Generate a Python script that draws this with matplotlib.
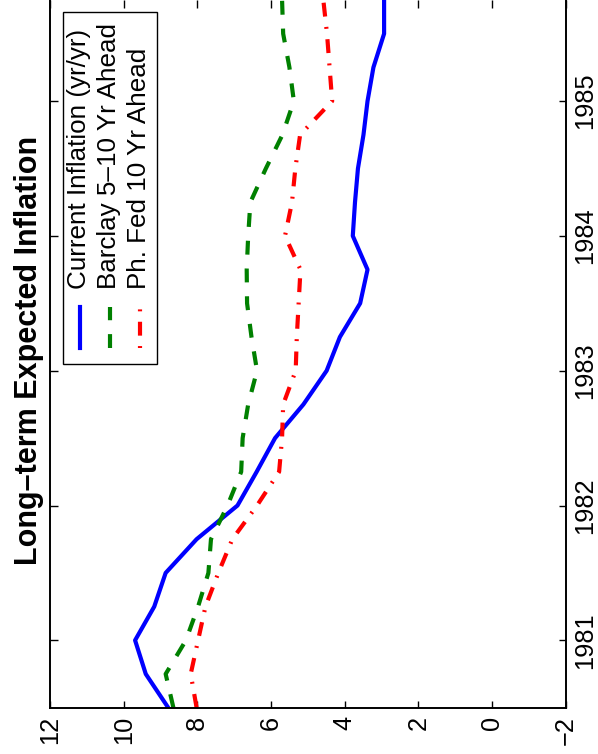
import matplotlib
matplotlib.use('Agg')
import matplotlib.pyplot as plt
from matplotlib.lines import Line2D
from matplotlib.patches import Rectangle

plt.rcParams['font.family'] = ['Liberation Sans', 'DejaVu Sans']
plt.rcParams['lines.scale_dashes'] = False

# quarterly dates, 1980Q3 .. 1985Q4
quarters = [1980.5, 1980.75, 1981.0, 1981.25, 1981.5, 1981.75, 1982.0, 1982.25,
            1982.5, 1982.75, 1983.0, 1983.25, 1983.5, 1983.75, 1984.0, 1984.25,
            1984.5, 1984.75, 1985.0, 1985.25, 1985.5, 1985.75]
current = [8.79, 9.40, 9.69, 9.17, 8.86, 8.02, 6.91, 6.39, 5.89, 5.12, 4.49,
           4.13, 3.58, 3.38, 3.78, 3.72, 3.64, 3.49, 3.38, 3.22, 2.93, 2.93]
barclay = [8.65, 8.86, 8.31, 7.98, 7.70, 7.63, 7.18, 6.81, 6.77, 6.62, 6.38,
           6.53, 6.65, 6.66, 6.62, 6.56, 6.14, 5.69, 5.38, 5.50, 5.67, 5.70]
phfed = [8.02, 8.18, 7.98, 7.78, 7.43, 7.05, 6.38, 5.78, 5.70, 5.67, 5.33,
         5.30, 5.25, 5.20, 5.62, 5.43, 5.34, 5.21, 4.34, 4.41, 4.48, 4.58]

names = ['Current Inflation (yr/yr)', 'Barclay 5\u201310 Yr Ahead', 'Ph. Fed 10 Yr Ahead']
colors = ['#0000ff', '#008000', '#ff0000']
styles = ['-', (0, (10, 10)), (0, (10, 7.5, 1.4, 7.5))]
year_ticks = [1981, 1982, 1983, 1984, 1985]
value_ticks = [12, 10, 8, 6, 4, 2, 0, -2]
title = 'Long\u2013term Expected Inflation'

W, H = 598, 754
fig = plt.figure(figsize=(W / 100, H / 100), dpi=100)


def fx(x):
    return x / W


def fy(y):
    return 1 - y / H


# the whole chart is turned 90 degrees: values run right-to-left, time bottom-to-top
ax = fig.add_axes([fx(50), fy(707.7), (565.7 - 50) / W, 707.7 / H])
for vals, c, ls in zip([current, barclay, phfed], colors, styles):
    ax.plot(vals, quarters, color=c, lw=3, linestyle=ls, dash_capstyle='butt')

ax.set_xlim(12, -2)
ax.set_ylim(1980.5, 1985.75)
ax.set_xticks(value_ticks)
ax.set_xticklabels([str(v) if v >= 0 else '\u2212' + str(-v) for v in value_ticks])
ax.set_yticks(year_ticks)
ax.set_yticklabels([str(y) for y in year_ticks])

ax.tick_params(direction='in', length=5.4, width=1, labelsize=18.3,
               top=True, bottom=True, left=True, right=True)
ax.tick_params(axis='y', labelleft=False, labelright=True, pad=5)
ax.tick_params(axis='x', pad=6)
for lab in ax.get_xticklabels():
    lab.set_rotation(90)
for lab in ax.get_yticklabels():
    lab.set_rotation(90)
    lab.set_va('center')
    lab.set_ha('left')
for s in ax.spines.values():
    s.set_linewidth(1.4)
ax.spines['top'].set_visible(False)

# legend, built by hand so it can be rotated
fig.add_artist(Rectangle((fx(63.3), fy(364)), (157 - 63.3) / W, (364 - 11.7) / H,
                         transform=fig.transFigure, facecolor='white',
                         edgecolor='black', lw=1))
cols = [80.3, 110, 140]
leg_styles = ['-', (0, (10, 10)), (17.5, (10, 7.5, 1.4, 7.5))]
for col, c, ls, name in zip(cols, colors, leg_styles, names):
    fig.add_artist(Line2D([fx(col), fx(col)], [fy(348.3), fy(306.7)],
                          transform=fig.transFigure, color=c, lw=3,
                          linestyle=ls, dash_capstyle='butt'))
    fig.text(fx(col - 1), fy(289), name, rotation=90, ha='center', va='bottom',
             fontsize=18.7)

fig.text(fx(29.4), fy(350.5), title, rotation=90, ha='center', va='center',
         fontsize=22, fontweight='bold')

fig.savefig('out.png', dpi=100)
